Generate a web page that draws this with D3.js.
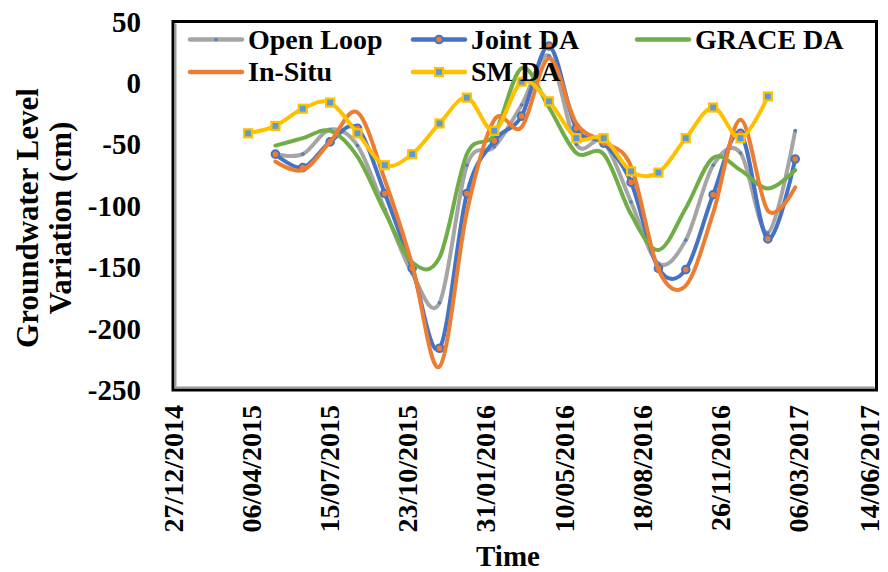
<!DOCTYPE html>
<html>
<head>
<meta charset="utf-8">
<script src="https://cdn.jsdelivr.net/npm/d3@7"></script>
<style>
  html, body { margin: 0; padding: 0; background: #fff; }
  svg { display: block; }
  text { font-family: "Liberation Serif", "Times New Roman", serif; font-weight: bold; fill: #000; }
</style>
</head>
<body>
<svg id="chart" width="888" height="572"></svg>
<script>
// Observation dates (roughly 35 days apart)
const dates = [
  "2015-04-02", "2015-05-07", "2015-06-11", "2015-07-16", "2015-08-20",
  "2015-09-24", "2015-10-29", "2015-12-03", "2016-01-07", "2016-02-11",
  "2016-03-17", "2016-04-21", "2016-05-26", "2016-06-30", "2016-08-04",
  "2016-09-08", "2016-10-13", "2016-11-17", "2016-12-22", "2017-01-26",
  "2017-03-02"
];

// Groundwater level variation (cm) per series
const openLoop = [null, -58, -58, -38, -51, -103, -155, -179, -67, -52, -18, 22, -50, -48, -97, -147, -128, -67, -57, -122, -39];
const jointDA  = [null, -58, -69, -48, -37, -90, -151, -216, -90, -47, -27, 30, -37, -49, -81, -151, -152, -91, -41, -127, -62];
const graceDA  = [null, -51, -45, -39, -60, -105, -146, -142, -58, -42, 12, -20, -57, -58, -107, -136, -102, -61, -71, -86, -71];
const inSitu   = [null, -64, -71, -48, -24, -79, -148, -231, -105, -30, -36, 20, -33, -48, -68, -152, -165, -106, -30, -104, -85];
const smDA     = [-41, -35, -21, -16, -41, -67, -58, -33, -12, -39, 1, -15, -45, -45, -72, -73, -45, -20, -45, -11, null];

// Axis tick labels
const xTickLabels = ["27/12/2014", "06/04/2015", "15/07/2015", "23/10/2015", "31/01/2016",
                     "10/05/2016", "18/08/2016", "26/11/2016", "06/03/2017", "14/06/2017"];
const yTicks = [50, 0, -50, -100, -150, -200, -250];

const seriesNames = ["Open Loop", "Joint DA", "GRACE DA", "In-Situ", "SM DA"];

const parseISO = d3.utcParse("%Y-%m-%d");
const parseDMY = d3.utcParse("%d/%m/%Y");

const svg = d3.select("#chart");
const plot = { left: 173, right: 876.5, top: 21.5, bottom: 390 };

const x = d3.scaleUtc()
  .domain([parseDMY(xTickLabels[0]), parseDMY(xTickLabels[xTickLabels.length - 1])])
  .range([plot.left, plot.right]);
const y = d3.scaleLinear().domain([-250, 50]).range([plot.bottom, plot.top]);

const series = [
  { name: "Open Loop", values: openLoop, color: "#A5A5A5", marker: "dot" },
  { name: "Joint DA",  values: jointDA,  color: "#4472C4", marker: "circle" },
  { name: "GRACE DA",  values: graceDA,  color: "#70AD47", marker: null },
  { name: "In-Situ",   values: inSitu,   color: "#ED7D31", marker: null },
  { name: "SM DA",     values: smDA,     color: "#FFC000", marker: "square" }
];

// Plot-area frame
svg.append("rect")
  .attr("x", plot.left).attr("y", plot.top)
  .attr("width", plot.right - plot.left).attr("height", plot.bottom - plot.top)
  .attr("fill", "none").attr("stroke", "#000").attr("stroke-width", 3);
svg.append("path")
  .attr("d", `M${plot.left + 2.5},${plot.top + 2} V${plot.bottom - 2.5} H${plot.right - 2}`)
  .attr("fill", "none").attr("stroke", "#9a9a9a").attr("stroke-width", 2);

// Y axis labels
svg.append("g").selectAll("text").data(yTicks).join("text")
  .attr("x", 141).attr("y", d => y(d)).attr("dy", "0.35em")
  .attr("text-anchor", "end").attr("font-size", 29)
  .text(d => d);

// X axis labels (rotated); the last one is nudged inward to stay on the page
svg.append("g").selectAll("text").data(xTickLabels).join("text")
  .attr("transform", d => `translate(${Math.min(x(parseDMY(d)), 869)},405) rotate(-90)`)
  .attr("dy", "0.35em").attr("text-anchor", "end").attr("font-size", 28)
  .text(d => d);

// Axis titles
svg.append("text")
  .attr("x", 508).attr("y", 566).attr("text-anchor", "middle").attr("font-size", 29)
  .text("Time");
const yTitle = svg.append("text")
  .attr("transform", "translate(0,218) rotate(-90)")
  .attr("text-anchor", "middle").attr("font-size", 31);
yTitle.append("tspan").attr("x", 0).attr("y", 38).text("Groundwater Level");
yTitle.append("tspan").attr("x", 0).attr("y", 71).text("Variation (cm)");

// Series lines
const line = d3.line()
  .defined(d => d.v !== null)
  .x(d => x(d.t)).y(d => y(d.v))
  .curve(d3.curveCardinal.tension(0));

function drawMarker(g, kind, px, py) {
  if (kind === "dot") {
    g.append("circle").attr("cx", px).attr("cy", py).attr("r", 1.8).attr("fill", "#5B7FB5");
  } else if (kind === "circle") {
    g.append("circle").attr("cx", px).attr("cy", py).attr("r", 3.8)
      .attr("fill", "#ED7D31").attr("stroke", "#4472C4").attr("stroke-width", 2);
  } else if (kind === "square") {
    g.append("rect").attr("x", px - 4).attr("y", py - 4).attr("width", 8).attr("height", 8)
      .attr("fill", "#5B9BD5").attr("stroke", "#FFC000").attr("stroke-width", 2.2);
  }
}

const gLines = svg.append("g");
series.forEach(s => {
  const pts = dates.map((d, i) => ({ t: parseISO(d), v: s.values[i] }));
  const g = gLines.append("g");
  g.append("path").datum(pts)
    .attr("d", line)
    .attr("fill", "none").attr("stroke", s.color).attr("stroke-width", 4)
    .attr("stroke-linecap", "round").attr("stroke-linejoin", "round");
  if (s.marker) {
    pts.filter(p => p.v !== null).forEach(p => drawMarker(g, s.marker, x(p.t), y(p.v)));
  }
});

// Legend
const legendPos = [
  { lx: 190, ly: 39.5 }, { lx: 413, ly: 39.5 }, { lx: 637, ly: 39.5 },
  { lx: 190, ly: 72 },   { lx: 413, ly: 72 }
];
series.forEach((s, i) => {
  const p = legendPos[i];
  const g = svg.append("g");
  g.append("line").attr("x1", p.lx).attr("x2", p.lx + 52).attr("y1", p.ly).attr("y2", p.ly)
    .attr("stroke", s.color).attr("stroke-width", 4.5).attr("stroke-linecap", "round");
  if (s.marker) drawMarker(g, s.marker, p.lx + 26, p.ly);
  g.append("text").attr("x", p.lx + 58).attr("y", p.ly + 9).attr("font-size", 28)
    .text(seriesNames[i]);
});
</script>
</body>
</html>
